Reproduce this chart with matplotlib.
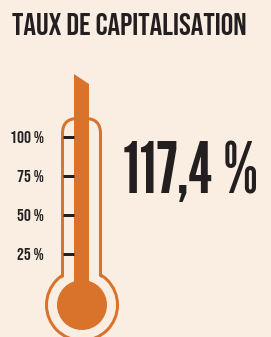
import matplotlib
matplotlib.use("Agg")
import matplotlib.pyplot as plt
from matplotlib.patches import Ellipse, FancyBboxPatch, Polygon

# data
title = "TAUX DE CAPITALISATION"
tickValues = [25, 50, 75, 100]
tickLabels = ["25 %", "50 %", "75 %", "100 %"]
ratioLabel = "117,4 %"

# colours
bg = "#f9eee1"
orange = "#d9732b"
ink = "#231f20"

plt.rcParams['font.family'] = ['Bebas Neue', 'DejaVu Sans']

W, H = 271, 337
fig = plt.figure(figsize=(W / 100, H / 100), dpi=100, facecolor=bg)
ax = fig.add_axes([0, 0, 1, 1])
ax.set_facecolor(bg)
ax.axis('off')

# y axis in percent, x axis in pixels; 25 % step = 39 px
k = 25 / 39.0
def py(ypix):
    return 25 + (254 - ypix) * k

ax.set_xlim(0, W)
ax.set_ylim(py(H), py(0))

lw = 3 * 72 / 100.0
cx = 82

# bulb ring
ax.add_patch(Ellipse((cx, py(305)), 71, 71 * k, facecolor=bg, edgecolor=orange, lw=lw, zorder=1))
# tube
ax.add_patch(FancyBboxPatch((62.5, py(290)), 38, py(118.5) - py(290),
                            boxstyle="round,pad=0,rounding_size=15", mutation_aspect=k,
                            facecolor=bg, edgecolor=orange, lw=lw, zorder=2))
# hide tube bottom inside the bulb
ax.add_patch(Ellipse((cx, py(305)), 67, 67 * k, facecolor=bg, edgecolor='none', zorder=3))

# mercury
ax.add_patch(Polygon([(74, py(74)), (89, py(84)), (89, py(300)), (74, py(300))],
                     closed=True, facecolor=orange, edgecolor='none', zorder=4))
ax.add_patch(Ellipse((cx, py(305)), 50, 50 * k, facecolor=orange, edgecolor='none', zorder=4))

# scale ticks
ax.hlines(tickValues, 63, 74, colors=ink, lw=lw, zorder=5)
for v, lab in zip(tickValues, tickLabels):
    ax.text(44, v - 6 * k, lab, ha='right', va='baseline', fontsize=12.5, color=ink)

ax.text(123, py(193), ratioLabel, ha='left', va='baseline', fontsize=50,
        family=['League Gothic', 'DejaVu Sans'], color=ink)
ax.text(12, py(35), title, ha='left', va='baseline', fontsize=22.6, color=ink)

fig.savefig("out.png", dpi=100, facecolor=bg)
